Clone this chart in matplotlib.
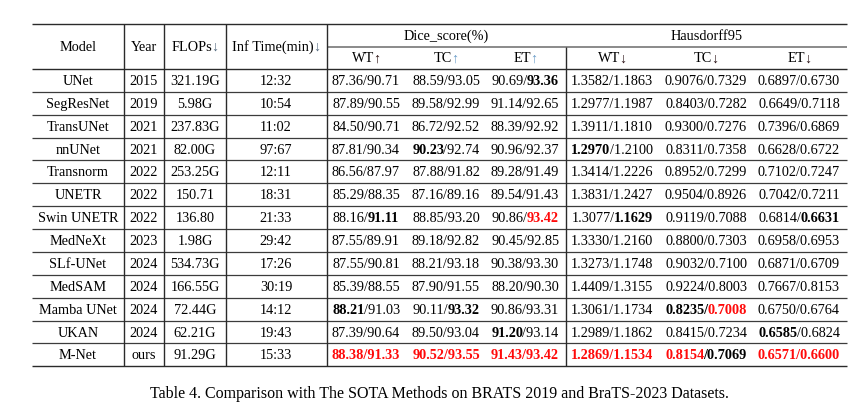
import matplotlib
matplotlib.use('Agg')
import matplotlib.pyplot as plt

plt.rcParams['font.family'] = ['Liberation Serif', 'DejaVu Serif']

# table contents; '*' = bold, '!' = red bold (marker on each half of a/b pair)
models = ['UNet', 'SegResNet', 'TransUNet', 'nnUNet', 'Transnorm', 'UNETR', 'Swin UNETR',
          'MedNeXt', 'SLf-UNet', 'MedSAM', 'Mamba UNet', 'UKAN', 'M-Net']
years = ['2015', '2019', '2021', '2021', '2022', '2022', '2022', '2023', '2024', '2024',
         '2024', '2024', 'ours']
flops = ['321.19G', '5.98G', '237.83G', '82.00G', '253.25G', '150.71', '136.80', '1.98G',
         '534.73G', '166.55G', '72.44G', '62.21G', '91.29G']
inf_time = ['12:32', '10:54', '11:02', '97:67', '12:11', '18:31', '21:33', '29:42', '17:26',
            '30:19', '14:12', '19:43', '15:33']
dice_wt = ['87.36/90.71', '87.89/90.55', '84.50/90.71', '87.81/90.34', '86.56/87.97',
           '85.29/88.35', '88.16/*91.11', '87.55/89.91', '87.55/90.81', '85.39/88.55',
           '*88.21/91.03', '87.39/90.64', '!88.38/!91.33']
dice_tc = ['88.59/93.05', '89.58/92.99', '86.72/92.52', '*90.23/92.74', '87.88/91.82',
           '87.16/89.16', '88.85/93.20', '89.18/92.82', '88.21/93.18', '87.90/91.55',
           '90.11/*93.32', '89.50/93.04', '!90.52/!93.55']
dice_et = ['90.69/*93.36', '91.14/92.65', '88.39/92.92', '90.96/92.37', '89.28/91.49',
           '89.54/91.43', '90.86/!93.42', '90.45/92.85', '90.38/93.30', '88.20/90.30',
           '90.86/93.31', '*91.20/93.14', '!91.43/!93.42']
hd_wt = ['1.3582/1.1863', '1.2977/1.1987', '1.3911/1.1810', '*1.2970/1.2100', '1.3414/1.2226',
         '1.3831/1.2427', '1.3077/*1.1629', '1.3330/1.2160', '1.3273/1.1748', '1.4409/1.3155',
         '1.3061/1.1734', '1.2989/1.1862', '!1.2869/!1.1534']
hd_tc = ['0.9076/0.7329', '0.8403/0.7282', '0.9300/0.7276', '0.8311/0.7358', '0.8952/0.7299',
         '0.9504/0.8926', '0.9119/0.7088', '0.8800/0.7303', '0.9032/0.7100', '0.9224/0.8003',
         '*0.8235/!0.7008', '0.8415/0.7234', '!0.8154/*0.7069']
hd_et = ['0.6897/0.6730', '0.6649/0.7118', '0.7396/0.6869', '0.6628/0.6722', '0.7102/0.7247',
         '0.7042/0.7211', '0.6814/*0.6631', '0.6958/0.6953', '0.6871/0.6709', '0.7667/0.8153',
         '0.6750/0.6764', '*0.6585/0.6824', '!0.6571/!0.6600']
caption = 'Table 4. Comparison with The SOTA Methods on BRATS 2019 and BraTS-2023 Datasets.'

RED = '#ff0a0a'
FS = 10.3

fig = plt.figure(figsize=(8.65, 4.14), dpi=100)
ax = fig.add_axes([0, 0, 1, 1])
ax.set_xlim(0, 865)
ax.set_ylim(414, 0)
ax.axis('off')
renderer = fig.canvas.get_renderer()


def style(tok):
    if tok.startswith('!'):
        return tok[1:], 'bold', RED
    if tok.startswith('*'):
        return tok[1:], 'bold', 'black'
    return tok, 'normal', 'black'


def pair_segments(s):
    a, b = s.split('/')
    ta, wa, ca = style(a)
    tb, wb, cb = style(b)
    if ca == RED and cb == RED:
        sl = ('/', 'bold', RED)
    elif wa == 'bold' and wb == 'bold':
        sl = ('/', 'bold', 'black')
    else:
        sl = ('/', 'normal', 'black')
    segs = [(ta, wa, ca), sl, (tb, wb, cb)]
    # join neighbours that share a style so spacing stays natural
    out = [segs[0]]
    for t, w, c in segs[1:]:
        if out[-1][1] == w and out[-1][2] == c:
            out[-1] = (out[-1][0] + t, w, c)
        else:
            out.append((t, w, c))
    return out


def rich(x, y, segs, fs=FS, gap=-0.9):
    # draw segments side by side, centred on x
    texts, widths = [], []
    for t, w, c in segs:
        tx = ax.text(0, y, t, fontsize=fs, fontweight=w, color=c, ha='left', va='center')
        bb = tx.get_window_extent(renderer)
        texts.append(tx)
        widths.append(bb.width)
    total = sum(widths) + gap * (len(widths) - 1)
    x0 = x - total / 2
    for tx, wd in zip(texts, widths):
        tx.set_x(x0)
        x0 += wd + gap


# column layout (pixels)
left, right = 32, 847
vlines = [124.3, 164.3, 225.7, 326.7, 565.7]
top, mid, head = 25, 48, 70
row_h = 22.87
n = len(models)
bottom = head + n * row_h
centers = [78, 144, 195, 276, 366, 446, 525, 612, 706, 799]

lc = '#2a2a2a'
ax.hlines([top, head, bottom], left, right, color=lc, lw=1.0)
ax.hlines(mid, vlines[3], right, color='#777777', lw=1.2)
for i in range(1, n):
    ax.hlines(head + i * row_h, left, right, color='#3c3c3c', lw=0.9)
for xv in vlines[:4]:
    ax.vlines(xv, top, bottom, color=lc, lw=1.0)
ax.vlines(vlines[4], mid, bottom, color=lc, lw=1.0)

# headers
yh = (top + head) / 2
up_blue = '#6a9cc8'
down_blue = '#556b80'
dark_red = '#2a1216'
rich(centers[0], yh, [('Model', 'normal', 'black')])
rich(centers[1], yh, [('Year', 'normal', 'black')])
rich(centers[2], yh, [('FLOPs', 'normal', 'black'), ('\u2193', 'normal', down_blue)], gap=-0.8)
rich(centers[3], yh, [('Inf Time(min)', 'normal', 'black'), ('\u2193', 'normal', down_blue)], gap=-0.8)
rich((vlines[3] + vlines[4]) / 2, (top + mid) / 2, [('Dice_score(%)', 'normal', 'black')])
rich((vlines[4] + right) / 2, (top + mid) / 2, [('Hausdorff95', 'normal', 'black')])
y2 = (mid + head) / 2
sub = [('WT', '\u2191', '#2a1010'), ('TC', '\u2191', up_blue), ('ET', '\u2191', up_blue),
       ('WT', '\u2193', dark_red), ('TC', '\u2193', dark_red), ('ET', '\u2193', dark_red)]
for k, (lab, arr, col) in enumerate(sub):
    rich(centers[4 + k], y2, [(lab, 'normal', 'black'), (arr, 'normal', col)], gap=-0.8)

# body
for i in range(n):
    y = head + (i + 0.5) * row_h
    rich(centers[0], y, [(models[i], 'normal', 'black')])
    rich(centers[1], y, [(years[i], 'normal', 'black')])
    rich(centers[2], y, [(flops[i], 'normal', 'black')])
    rich(centers[3], y, [(inf_time[i], 'normal', 'black')])
    for k, col in enumerate([dice_wt, dice_tc, dice_et, hd_wt, hd_tc, hd_et]):
        rich(centers[4 + k], y, pair_segments(col[i]))

ax.text(439, 394, caption, fontsize=11.5, ha='center', va='center')

fig.savefig('out.png', dpi=100)
